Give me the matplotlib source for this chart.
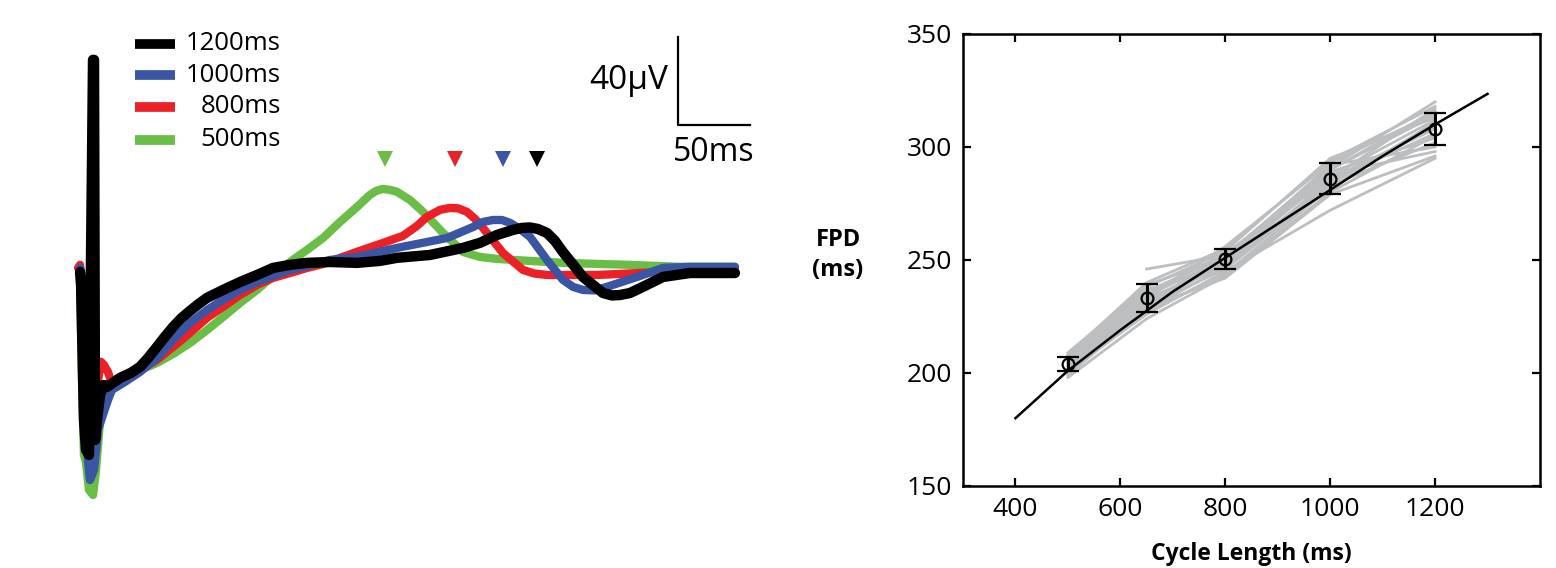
import numpy as np
import matplotlib
matplotlib.use('Agg')
import matplotlib.pyplot as plt

plt.rcParams['font.family'] = ['Open Sans', 'DejaVu Sans']

# ---- left panel: averaged field potentials (t in ms, v in uV) ----
labels = ['1200ms', '1000ms', '800ms', '500ms']
colors = ['#000000', '#3a55a4', '#ec2027', '#6abd45']

t_1200 = [-8.3, -7.6, -5.6, -4.2, -2.1, 0.7, 1.4, 2.1, 3.5, 5.6, 8.3, 10.4, 19.4, 27, 33.3, 39, 45.1,
          50.5, 56.3, 62, 68.1, 74, 79.9, 91, 102.8, 114.6, 125.7, 137.5, 149.3, 165.3, 184, 200,
          211.8, 234.7, 257.6, 269.4, 281.3, 292.4, 298.6, 304.2, 309.7, 316, 321.5, 327, 341, 354.9,
          361.1, 366.7, 373.6, 382.6, 396.5, 415.3, 446.5]
v_1200 = [-0.9, -6.8, -68.2, -81.8, -84.1, 95.5, 95.5, -77.3, -68.2, -56.8, -52.3, -53.2, -49.1, -46.8,
          -44.1, -40, -35, -30.5, -25.9, -22, -18.6, -15.5, -12.7, -9.1, -5.5, -2.3, 0.9, 2.3, 3.2,
          3.6, 3.2, 4.1, 5.5, 6.8, 10, 12.3, 15.9, 18.2, 19.1, 19.3, 18.6, 16.8, 13.2, 8.2, -3.2,
          -10.5, -11.6, -11.4, -10.5, -7.7, -3.2, -1.4, -1.4]

t_1000 = [-8.3, -6.9, -4.2, -1.4, 1.4, 4.2, 8.3, 11.1, 13.9, 22.9, 33.3, 45.1, 56.3, 68.1, 79.9, 91,
          102.8, 114.6, 125.7, 137.5, 149.3, 165, 184, 211.8, 246.5, 264.6, 271.5, 278.5, 284.7, 290.3,
          297.2, 304.2, 316, 327, 334, 341, 349, 357.6, 378.5, 396.5, 415.3, 446.5]
v_1000 = [0.9, -13.6, -77.3, -95.5, -90.9, -72.7, -64.5, -59.1, -54.5, -50.9, -46.4, -40, -31.8, -24.1,
          -18.2, -13.6, -9.1, -5.5, -2.7, 0, 1.8, 4.5, 5.9, 10, 14.5, 19.5, 21.8, 22.7, 22.7, 21.4,
          18.6, 15, 4.5, -4.5, -7.7, -9.1, -9.3, -7.7, -3.2, 0.9, 1.4, 1.4]

t_800 = [-9.7, -8.3, -6.9, -4.2, -1.4, 1.4, 4.2, 6.3, 8.3, 11.1, 13.9, 22.9, 33.3, 45.1, 56.3, 68.1,
         79.9, 91, 102.8, 114.6, 125.7, 137.5, 149.3, 160.4, 184, 200, 216, 225.7, 232.6, 241.7, 248.6,
         254.2, 260.4, 266, 271.5, 285.4, 299.3, 307, 316, 350.7, 396.5, 420.1, 446.5]
v_800 = [0.9, 2.3, -9.1, -68.2, -81.8, -77.3, -50, -41.8, -43.2, -46.4, -51.8, -49.1, -45.5, -40.9,
         -35, -28.6, -21.8, -16.8, -11.4, -6.8, -3.6, -1.4, 0.9, 2.7, 8.2, 11.8, 15.5, 20, 24.1, 27.3,
         28.2, 28, 26.4, 23.2, 19.1, 7.7, 0, -1.6, -2.3, -2.3, -0.9, 0.9, 0.9]

t_500 = [-8.3, -6.9, -5.6, -4.2, -2.1, 0.7, 2.8, 5.6, 9, 12.5, 22.9, 33.3, 45.1, 56.3, 68.1, 79.9, 91,
         102.8, 114.6, 125.7, 137.5, 149.3, 160.4, 172.2, 184, 193, 197.2, 202, 206.9, 211.8, 220.8,
         229.9, 243.8, 257.6, 269.4, 281.3, 327, 373.6, 408.3, 446.5]
v_500 = [-4.5, -50, -84.1, -87.3, -100, -102.3, -90.9, -68.2, -56.8, -51.4, -47.7, -45.5, -42.3, -38.2,
         -33.2, -27.3, -21.4, -15, -9.1, -2.7, 3.6, 9.1, 14.5, 21.8, 28.6, 34.1, 35.9, 36.8, 36.4, 35.5,
         31.8, 26.4, 16.8, 8.2, 5.9, 5, 3.2, 2.3, 1.4, 1.4]

peak_t = [309, 285.4, 252, 203.5]   # arrowheads over each repolarization peak

# ---- right panel: FPD vs cycle length ----
cycle = [500, 650, 800, 1000, 1200]
fpd_mean = [203.9, 233.1, 250.3, 285.9, 308.0]
fpd_err = [3.2, 6.2, 4.5, 6.8, 7.0]

fit_cl = [400, 500, 600, 700, 800, 900, 1000, 1100, 1200, 1300]
fit_fpd = [180, 201, 219, 236, 251, 266, 281, 296, 310, 323.5]

subjects = [
    [206, 236, 252, 290, 316],
    [203, 232, 250, 287, 312],
    [200, 228, 247, 284, 310],
    [208, 240, 255, 294, 318],
    [198, 224, 243, 280, 305],
    [204, 234, 251, 292, 300],
    [202, 230, 249, 288, 298],
    [209, 238, 254, 295, 313],
    [201, 226, 245, 272, 295],
    [205, 235, 253, 286, 308],
    [207, 237, 246, 283, 302],
    [199, 229, 242, 279, 296],
    [np.nan, 246, 252, 291, 320],
    [203, 231, 248, 285, 306],
    [206, 233, 256, 293, 315],
    [200, 227, 244, 282, 311],
    [205, 239, 251, 289, 304],
    [202, 233, 247, 290, 314],
    [208, 236, 249, 284, 309],
    [204, 230, 246, 286, 317],
]

fig = plt.figure(figsize=(15.56, 5.68), dpi=100)

# left panel, no axes, limits chosen so 1 ms = 1.44 px and 1 uV = 2.2 px
ax1 = fig.add_axes([0, 0, 800 / 1556, 1])
ax1.set_xlim(-63.9, 491.7)
ax1.set_ylim(-135.5, 122.7)
ax1.axis('off')

traces = [(t_1200, v_1200), (t_1000, v_1000), (t_800, v_800), (t_500, v_500)]
widths = [7.5, 6, 6, 6]
for i in [3, 2, 1, 0]:
    t, v = traces[i]
    ax1.plot(t, v, color=colors[i], lw=widths[i], solid_joinstyle='round',
             solid_capstyle='round', zorder=2 + (3 - i))
    ax1.plot(peak_t[i], 50.5, marker='v', color=colors[i], ms=11, mew=0, zorder=6)

# legend drawn by hand
leg_v = [102.7, 88.6, 74.1, 59.1]
for i in range(4):
    ax1.plot([29.9, 57.6], [leg_v[i], leg_v[i]], color=colors[i], lw=7, solid_capstyle='butt')
    ax1.text(131, leg_v[i], labels[i], ha='right', va='center', fontsize=18.5)

# scale bar
ax1.plot([406.9, 406.9, 456.9], [105.9, 65.9, 65.9], color='black', lw=1.6)
ax1.text(400, 86, '40\u00b5V', ha='right', va='center', fontsize=24)
ax1.text(432, 53.5, '50ms', ha='center', va='center', fontsize=23)

fig.text(838 / 1556, 1 - 255 / 568, 'FPD\n(ms)', ha='center', va='center',
         fontsize=17, fontweight='bold', linespacing=1.35)

# right panel
ax2 = fig.add_axes([963 / 1556, 1 - 486 / 568, (1540 - 963) / 1556, (486 - 34) / 568])
for s in subjects:
    ax2.plot(cycle, s, color='#bcbec0', lw=2, zorder=1)
ax2.plot(fit_cl, fit_fpd, color='black', lw=1.8, zorder=2)
ax2.errorbar(cycle, fpd_mean, yerr=fpd_err, fmt='o', mfc='none', mec='black', color='black',
             ms=8.5, mew=1.6, elinewidth=2.2, capsize=8, capthick=2.2, zorder=3)

ax2.set_xlim(300, 1400)
ax2.set_ylim(150, 350)
ax2.set_xticks([400, 600, 800, 1000, 1200])
ax2.set_yticks([150, 200, 250, 300, 350])
ax2.tick_params(direction='in', length=6, width=1.6, top=True, right=True, labelsize=19, pad=8)
for sp in ax2.spines.values():
    sp.set_linewidth(1.8)
ax2.set_xlabel('Cycle Length (ms)', fontsize=16.5, fontweight='bold', labelpad=14)

fig.savefig('out.png', dpi=100)
